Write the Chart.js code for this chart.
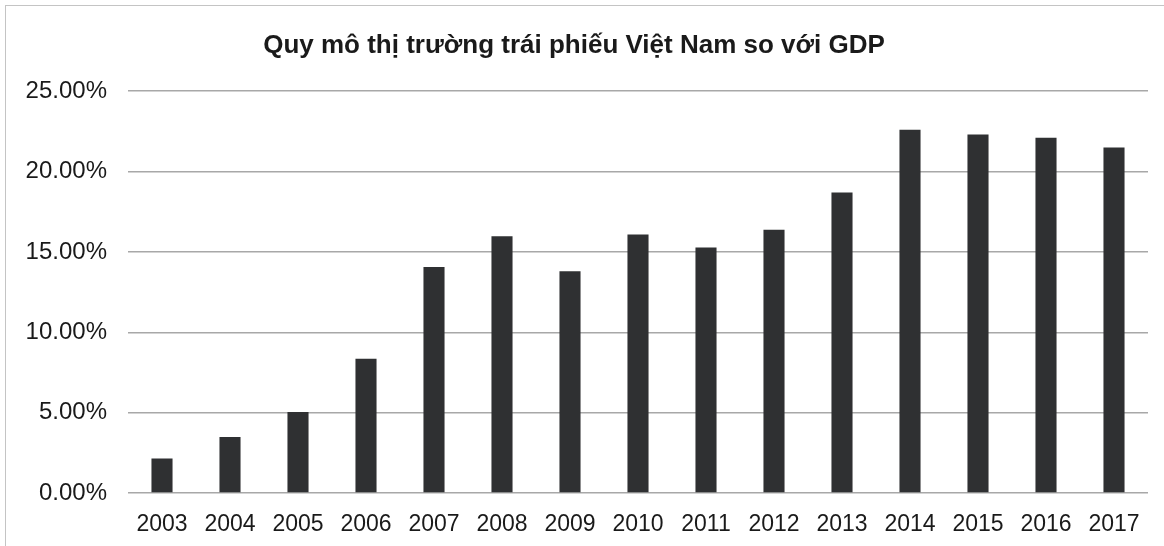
<!DOCTYPE html>
<html>
<head>
<meta charset="utf-8">
<script src="https://cdn.jsdelivr.net/npm/chart.js@4"></script>
<style>
  html, body { margin: 0; padding: 0; background: #fff; }
  #wrap { position: relative; width: 1164px; height: 546px; }
  #frame { position: absolute; left: 5px; top: 5px; width: 1170px; height: 560px;
           border: 1px solid #c4c4c4; pointer-events: none; }
</style>
</head>
<body>
<div id="wrap">
  <canvas id="myChart" width="1164" height="546"></canvas>
  <div id="frame"></div>
</div>
<script>
const years = ['2003', '2004', '2005', '2006', '2007', '2008', '2009', '2010',
               '2011', '2012', '2013', '2014', '2015', '2016', '2017'];
// bond market size as % of GDP
const bondPct = [2.14, 3.48, 5.04, 8.36, 14.06, 15.98, 13.79, 16.09,
                 15.28, 16.38, 18.7, 22.6, 22.3, 22.1, 21.5];
const chartTitle = 'Quy mô thị trường trái phiếu Việt Nam so với GDP';

const ctx = document.getElementById('myChart').getContext('2d');

new Chart(ctx, {
  type: 'bar',
  data: {
    labels: years,
    datasets: [{
      label: 'GDP %',
      data: bondPct,
      backgroundColor: '#2f3032',
      borderWidth: 0,
      barPercentage: 0.31,
      categoryPercentage: 1
    }]
  },
  options: {
    responsive: false,
    animation: false,
    layout: { padding: { left: 0, right: 16, top: 0, bottom: 0 } },
    plugins: {
      legend: { display: false },
      tooltip: { enabled: false },
      title: {
        display: true,
        text: chartTitle,
        color: '#1a1a1a',
        font: { family: 'Liberation Sans', size: 26, weight: 'bold' },
        padding: { top: 30, bottom: 30 }
      }
    },
    scales: {
      x: {
        grid: { display: false, drawTicks: false },
        border: { display: false },
        ticks: {
          color: '#1a1a1a',
          font: { family: 'Liberation Sans', size: 23 },
          padding: 18,
          maxRotation: 0,
          autoSkip: false
        },
        afterFit: axis => { axis.height = 53; }
      },
      y: {
        min: 0,
        max: 25,
        grid: { color: '#a8a8a8', lineWidth: 1.5, drawTicks: false },
        border: { display: false },
        ticks: {
          stepSize: 5,
          color: '#1a1a1a',
          font: { family: 'Liberation Sans', size: 24 },
          padding: 21,
          callback: v => v.toFixed(2) + '%'
        },
        afterFit: axis => { axis.width = 128; }
      }
    }
  }
});
</script>
</body>
</html>
